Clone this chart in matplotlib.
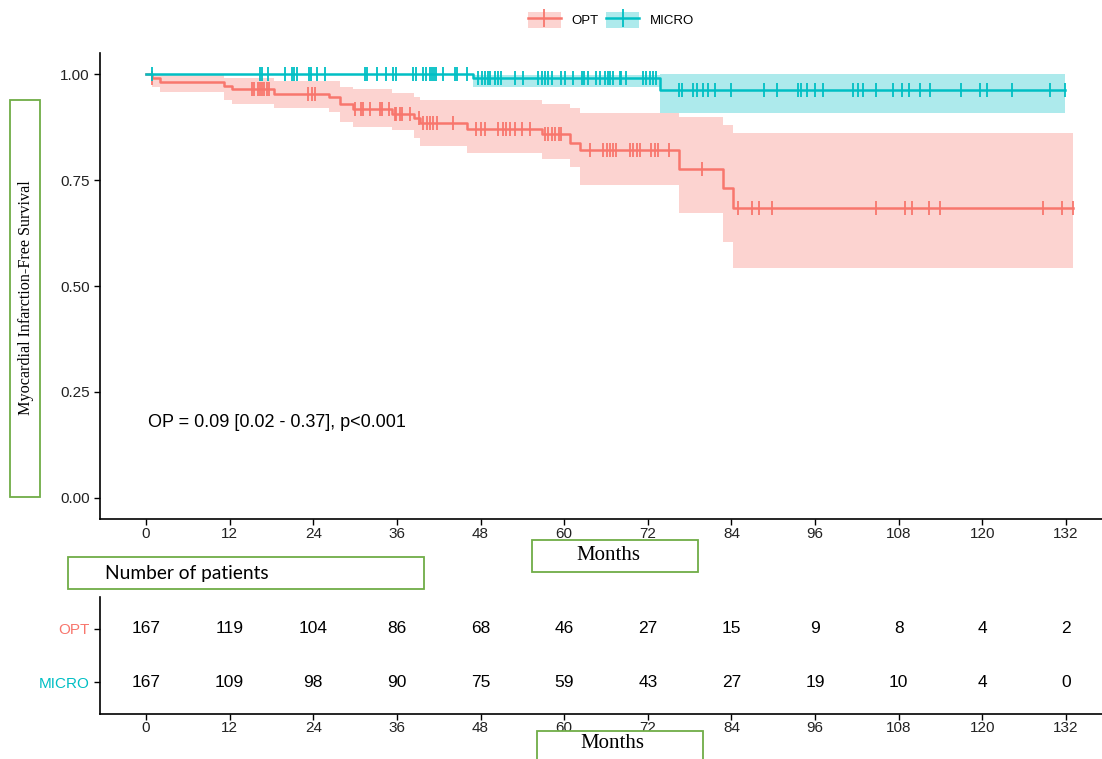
import numpy as np
import matplotlib
matplotlib.use("Agg")
import matplotlib.pyplot as plt
from matplotlib.patches import Rectangle, Patch
from matplotlib.lines import Line2D

plt.rcParams['font.family'] = ['Liberation Sans', 'DejaVu Sans']

# --- data ---
groups = ["OPT", "MICRO"]
colors = {"OPT": "#F8766D", "MICRO": "#00BFC4"}

opt_time = [0, 0.8, 2.0, 11.2, 12.4, 18.4, 26.3, 27.8, 29.7, 35.3, 38.4, 39.3,
            46.0, 56.8, 60.8, 62.3, 76.5, 82.8, 84.2]
opt_surv = [1.0, 0.990, 0.981, 0.972, 0.964, 0.954, 0.945, 0.930, 0.918, 0.906,
            0.896, 0.884, 0.871, 0.858, 0.837, 0.820, 0.776, 0.731, 0.684]
opt_upper = [1.0, 1.0, 0.997, 0.992, 0.99, 0.985, 0.985, 0.97, 0.965, 0.955,
             0.945, 0.94, 0.938, 0.93, 0.92, 0.908, 0.899, 0.88, 0.86]
opt_lower = [1.0, 0.97, 0.958, 0.94, 0.93, 0.92, 0.91, 0.888, 0.875, 0.868,
             0.85, 0.83, 0.815, 0.80, 0.78, 0.738, 0.672, 0.604, 0.542]
opt_end = 133.0
opt_censor = [0.9, 15.2, 15.5, 16.0, 16.3, 16.6, 16.9, 17.3, 17.7, 23.3, 23.8, 24.2,
              30.0, 30.9, 31.2, 32.1, 33.6, 33.8, 34.8, 35.7, 35.9, 36.4, 36.7, 37.9,
              39.1, 39.8, 40.3, 40.7, 41.2, 41.7, 44.1, 47.4, 48.1, 48.6, 50.5, 51.2,
              51.7, 52.2, 52.9, 53.9, 55.1, 57.2, 57.7, 58.2, 58.7, 59.2, 59.6, 63.7,
              65.6, 66.1, 66.5, 67.0, 67.5, 69.4, 69.9, 70.4, 70.9, 72.5, 73.0, 73.5,
              75.0, 79.7, 84.9, 86.9, 87.9, 89.8, 104.8, 108.9, 109.9, 112.4, 113.9,
              128.7, 131.4, 133.0]

micro_time = [0, 46.9, 73.7]
micro_surv = [1.0, 0.990, 0.962]
micro_upper = [1.0, 0.998, 1.0]
micro_lower = [1.0, 0.970, 0.908]
micro_end = 131.8
micro_censor = [0.9, 16.4, 16.7, 17.5, 19.9, 20.9, 21.2, 21.6, 23.4, 23.7, 24.5, 25.7,
                31.4, 31.7, 33.1, 34.5, 35.5, 35.9, 38.3, 38.7, 39.8, 40.2, 40.7, 41.1,
                41.3, 41.6, 42.6, 44.3, 44.6, 46.0, 47.6, 48.2, 48.6, 49.1, 49.4, 50.1,
                50.5, 51.0, 52.9, 54.1, 56.3, 56.8, 57.2, 57.7, 58.2, 59.6, 60.1, 61.3,
                62.5, 62.9, 63.4, 64.6, 65.1, 65.8, 66.3, 66.5, 67.0, 68.0, 68.2, 68.9,
                71.3, 71.8, 72.3, 72.7, 73.2, 76.4, 76.9, 78.5, 79.0, 79.9, 80.7, 81.6,
                84.0, 88.6, 90.5, 93.6, 94.0, 94.8, 96.0, 97.2, 101.5, 102.2, 102.9,
                104.8, 107.2, 108.4, 109.4, 111.0, 112.5, 117.0, 119.7, 120.6, 124.2,
                129.7, 131.8]

xticks = list(range(0, 133, 12))
at_risk_opt = [167, 119, 104, 86, 68, 46, 27, 15, 9, 8, 4, 2]
at_risk_micro = [167, 109, 98, 90, 75, 59, 43, 27, 19, 10, 4, 0]

annot = "OP = 0.09 [0.02 - 0.37], p<0.001"

curves = {
    "OPT": (opt_time, opt_surv, opt_lower, opt_upper, opt_end, opt_censor),
    "MICRO": (micro_time, micro_surv, micro_lower, micro_upper, micro_end, micro_censor),
}

fig = plt.figure(figsize=(11.02, 7.59), dpi=100)
W, H = 1102, 759
xlim = (-6.6, 137.16)

ax = fig.add_axes([100 / W, 1 - 519 / H, 1 - 100 / W, (519 - 53) / H])
for g in ["OPT", "MICRO"]:
    t, s, lo, up, end, cens = curves[g]
    c = colors[g]
    tt = np.append(t, end)
    ax.fill_between(tt, np.append(lo, lo[-1]), np.append(up, up[-1]), step="post",
                    color=c, alpha=0.32, lw=0)
    ax.step(tt, np.append(s, s[-1]), where="post", color=c, lw=1.8)
    idx = np.searchsorted(t, cens, side="right") - 1
    ax.plot(cens, np.array(s)[idx], ls="none", marker="|", ms=10, mew=1.3, color=c)

ax.text(0.3, 0.177, annot, fontsize=13, va="center", ha="left")
ax.set_xlim(*xlim)
ax.set_ylim(-0.05, 1.05)
ax.set_xticks(xticks)
ax.set_yticks([0, 0.25, 0.5, 0.75, 1.0])
ax.set_yticklabels(["0.00", "0.25", "0.50", "0.75", "1.00"])
for sp in ["top", "right"]:
    ax.spines[sp].set_visible(False)
for sp in ["left", "bottom"]:
    ax.spines[sp].set_linewidth(1.2)
ax.tick_params(labelsize=11, colors="black", length=4, width=1, labelcolor="#222222")
ax.tick_params(axis="x", pad=2)

# risk table
axt = fig.add_axes([100 / W, 1 - 714 / H, 1 - 100 / W, (714 - 597) / H])
axt.set_xlim(*xlim)
axt.set_ylim(0.4, 2.6)
for x, a, b in zip(xticks, at_risk_opt, at_risk_micro):
    axt.text(x, 2, str(a), ha="center", va="center", fontsize=12.5)
    axt.text(x, 1, str(b), ha="center", va="center", fontsize=12.5)
axt.set_xticks(xticks)
axt.set_yticks([1, 2])
axt.set_yticklabels(["MICRO", "OPT"])
for lab, g in zip(axt.get_yticklabels(), ["MICRO", "OPT"]):
    lab.set_color(colors[g])
for sp in ["top", "right"]:
    axt.spines[sp].set_visible(False)
for sp in ["left", "bottom"]:
    axt.spines[sp].set_linewidth(1.2)
axt.tick_params(labelsize=11, length=4, width=1)
axt.tick_params(axis="x", labelcolor="#222222", pad=1)

# legend
handles = [(Patch(facecolor=colors[g], alpha=0.32, lw=0),
            Line2D([], [], color=colors[g], lw=1.8, marker="|", ms=13, mew=1.3))
           for g in groups]
fig.legend(handles, groups, loc="center", bbox_to_anchor=(611 / W, 1 - 20 / H), ncol=2,
           frameon=False, fontsize=9.5, handlelength=2.5, handleheight=1.6,
           handletextpad=0.8, columnspacing=0.6)

# green annotation boxes laid over the figure
green = "#70AD47"
boxes = [(10, 100, 30, 397), (532, 540, 166, 32), (68, 557, 356, 32), (537, 731, 166, 30)]
for x0, y0, bw, bh in boxes:
    fig.patches.append(Rectangle((x0 / W, 1 - (y0 + bh) / H), bw / W, bh / H,
                                 transform=fig.transFigure, facecolor="white",
                                 edgecolor=green, lw=1.3, zorder=5))
fig.text(26 / W, 1 - 298 / H, "Myocardial Infarction-Free Survival", rotation=90,
         family="Liberation Serif", fontsize=11.6, ha="center", va="center", zorder=6)
fig.text(608 / W, 1 - 556 / H, "Months", family="Liberation Serif", fontsize=15,
         ha="center", va="center", zorder=6)
fig.text(105 / W, 1 - 573 / H, "Number of patients", family="Lato", fontsize=13.8,
         ha="left", va="center", zorder=6)
fig.text(612 / W, 1 - 743 / H, "Months", family="Liberation Serif", fontsize=15,
         ha="center", va="center", zorder=6)

fig.savefig("out.png", dpi=100)
